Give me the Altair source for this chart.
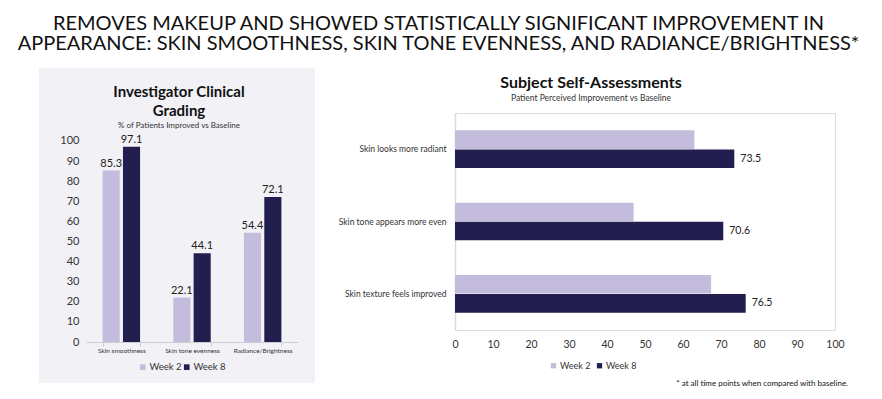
import altair as alt
import pandas as pd

# ---------------- data ----------------
weeks = ["Week 2", "Week 8"]
colors = ["#c3bcdc", "#221f50"]
axis_ticks = [0, 10, 20, 30, 40, 50, 60, 70, 80, 90, 100]

clin_categories = ["Skin smoothness", "Skin tone evenness", "Radiance/Brightness"]
clin_week2 = [85.3, 22.1, 54.4]
clin_week8 = [97.1, 44.1, 72.1]

self_categories = ["Skin looks more radiant", "Skin tone appears more even", "Skin texture feels improved"]
self_week2 = [63.0, 47.0, 67.4]
self_week8 = [73.5, 70.6, 76.5]

main_title = ["REMOVES MAKEUP AND SHOWED STATISTICALLY SIGNIFICANT IMPROVEMENT IN",
              "APPEARANCE: SKIN SMOOTHNESS, SKIN TONE EVENNESS, AND RADIANCE/BRIGHTNESS*"]
left_title_1 = "Investigator Clinical"
left_title_2 = "Grading"
left_subtitle = "% of Patients Improved vs Baseline"
right_title = "Subject Self-Assessments"
right_subtitle = "Patient Perceived Improvement vs Baseline"
footnote = "* at all time points when compared with baseline."

FONT = "Lato"

left_df = pd.DataFrame({
    "category": clin_categories * 2,
    "week": [weeks[0]] * 3 + [weeks[1]] * 3,
    "value": clin_week2 + clin_week8,
})
left_df["label"] = left_df["value"].map(lambda v: f"{v:.1f}")

right_df = pd.DataFrame({
    "category": self_categories * 2,
    "week": [weeks[0]] * 3 + [weeks[1]] * 3,
    "value": self_week2 + self_week8,
})
right_df["label"] = right_df["value"].map(lambda v: f"{v:.1f}")

color_scale = alt.Scale(domain=weeks, range=colors)


def text_layer(txt, x, y, size, weight="normal", align="center", color="#111"):
    return alt.Chart(pd.DataFrame({"t": [txt]})).mark_text(
        font=FONT, fontSize=size, fontWeight=weight, align=align,
        baseline="middle", color=color
    ).encode(x=alt.value(x), y=alt.value(y), text="t:N")


def frame_rect(x1, x2, y1, y2, color="transparent"):
    return alt.Chart(pd.DataFrame({"a": [0]})).mark_rect(color=color).encode(
        x=alt.value(x1), x2=alt.value(x2), y=alt.value(y1), y2=alt.value(y2)
    )


# ---------------- left panel ----------------
# plot area shares its top edge with the right panel; headroom above 100 holds the title
LW, LH = 212, 229
left_extent = frame_rect(-73, -70, 0, 5)
left_bg = frame_rect(-47, 229, -45, 270, color="#f2f1f6")

lx = alt.X("category:N", sort=clin_categories,
           scale=alt.Scale(paddingInner=0.47, paddingOuter=0.235),
           axis=alt.Axis(title=None, labelAngle=0, labelFontSize=6.5, labelColor="#333",
                         labelFont=FONT, domainColor="#cdcdd4", tickColor="#cdcdd4",
                         tickBand="extent", tickSize=4, labelPadding=1, zindex=1))
lxo = alt.XOffset("week:N", sort=weeks, scale=alt.Scale(paddingInner=0.16))
ly = alt.Y("value:Q", scale=alt.Scale(domain=[0, 113.9], nice=False),
           axis=alt.Axis(values=axis_ticks, title=None, domain=False, ticks=False, grid=False,
                         labelFontSize=11, labelPadding=7, labelColor="#333", labelFont=FONT,
                         zindex=1))

left_bars = alt.Chart(left_df).mark_bar().encode(
    x=lx, xOffset=lxo, y=ly,
    color=alt.Color("week:N", scale=color_scale,
                    legend=alt.Legend(title=None, orient="none", legendX=52, legendY=249,
                                      direction="horizontal", symbolType="square",
                                      symbolSize=32, symbolStrokeWidth=0,
                                      labelFontSize=9.5, labelFont=FONT, labelColor="#333",
                                      labelOffset=2, columnPadding=0, padding=0))
)
left_labels = alt.Chart(left_df).mark_text(
    font=FONT, fontSize=11, color="#222", dy=-7
).encode(x=lx, xOffset=lxo, y=ly, text="label:N")

left = alt.layer(
    left_extent, left_bg, left_bars, left_labels,
    text_layer(left_title_1, 93, -21, 15, "bold"),
    text_layer(left_title_2, 93, -2, 15, "bold"),
    text_layer(left_subtitle, 93, 13, 8, color="#333"),
).properties(width=LW, height=LH)

# ---------------- right panel ----------------
RW, RH = 380, 217
ry = alt.Y("category:N", sort=self_categories,
           scale=alt.Scale(paddingInner=0.48, paddingOuter=0.24),
           axis=alt.Axis(title=None, domainColor="#d9d9d9", domainWidth=1.5, ticks=False,
                         labelFontSize=8.5, labelPadding=9, labelColor="#333", labelFont=FONT,
                         labelLimit=250))
ryo = alt.YOffset("week:N", sort=weeks, scale=alt.Scale(paddingInner=0.03))
rx = alt.X("value:Q", scale=alt.Scale(domain=[0, 100]),
           axis=alt.Axis(values=axis_ticks, title=None, domain=False, ticks=False, grid=False,
                         labelFlush=False, labelFontSize=10.5, labelPadding=9,
                         labelColor="#333", labelFont=FONT))

right_bars = alt.Chart(right_df).mark_bar().encode(
    y=ry, yOffset=ryo, x=rx,
    color=alt.Color("week:N", scale=color_scale,
                    legend=alt.Legend(title=None, orient="none", legendX=94, legendY=248,
                                      direction="horizontal", symbolType="square",
                                      symbolSize=28, symbolStrokeWidth=0,
                                      labelFontSize=9, labelFont=FONT, labelColor="#333",
                                      labelOffset=2, columnPadding=4, padding=0))
)
right_labels = alt.Chart(right_df).transform_filter(
    alt.datum.week == weeks[1]
).mark_text(font=FONT, fontSize=10.5, color="#222", align="left", dx=6).encode(
    y=ry, yOffset=ryo, x=rx, text="label:N"
)

right_extent = frame_rect(-135, 409, -5, 0)

right = alt.layer(
    right_extent, right_bars, right_labels,
    text_layer(right_title, 136, -30, 16, "bold"),
    text_layer(right_subtitle, 136, -15.5, 8.5, color="#333"),
    text_layer(footnote, 393, 271, 8, align="right", color="#111"),
).properties(width=RW, height=RH)

chart = alt.hconcat(left, right, spacing=3).resolve_scale(
    color="independent"
).resolve_legend(color="independent").properties(
    title=alt.TitleParams(main_title, fontSize=20, font=FONT, fontWeight="normal",
                          color="#111", lineHeight=20, anchor="middle", offset=14),
    padding={"left": 4, "top": 5, "right": 0, "bottom": 0},
).configure_view(stroke=None).configure(background="white")

chart.save("out.html", embed_options={"renderer": "svg", "actions": False})
